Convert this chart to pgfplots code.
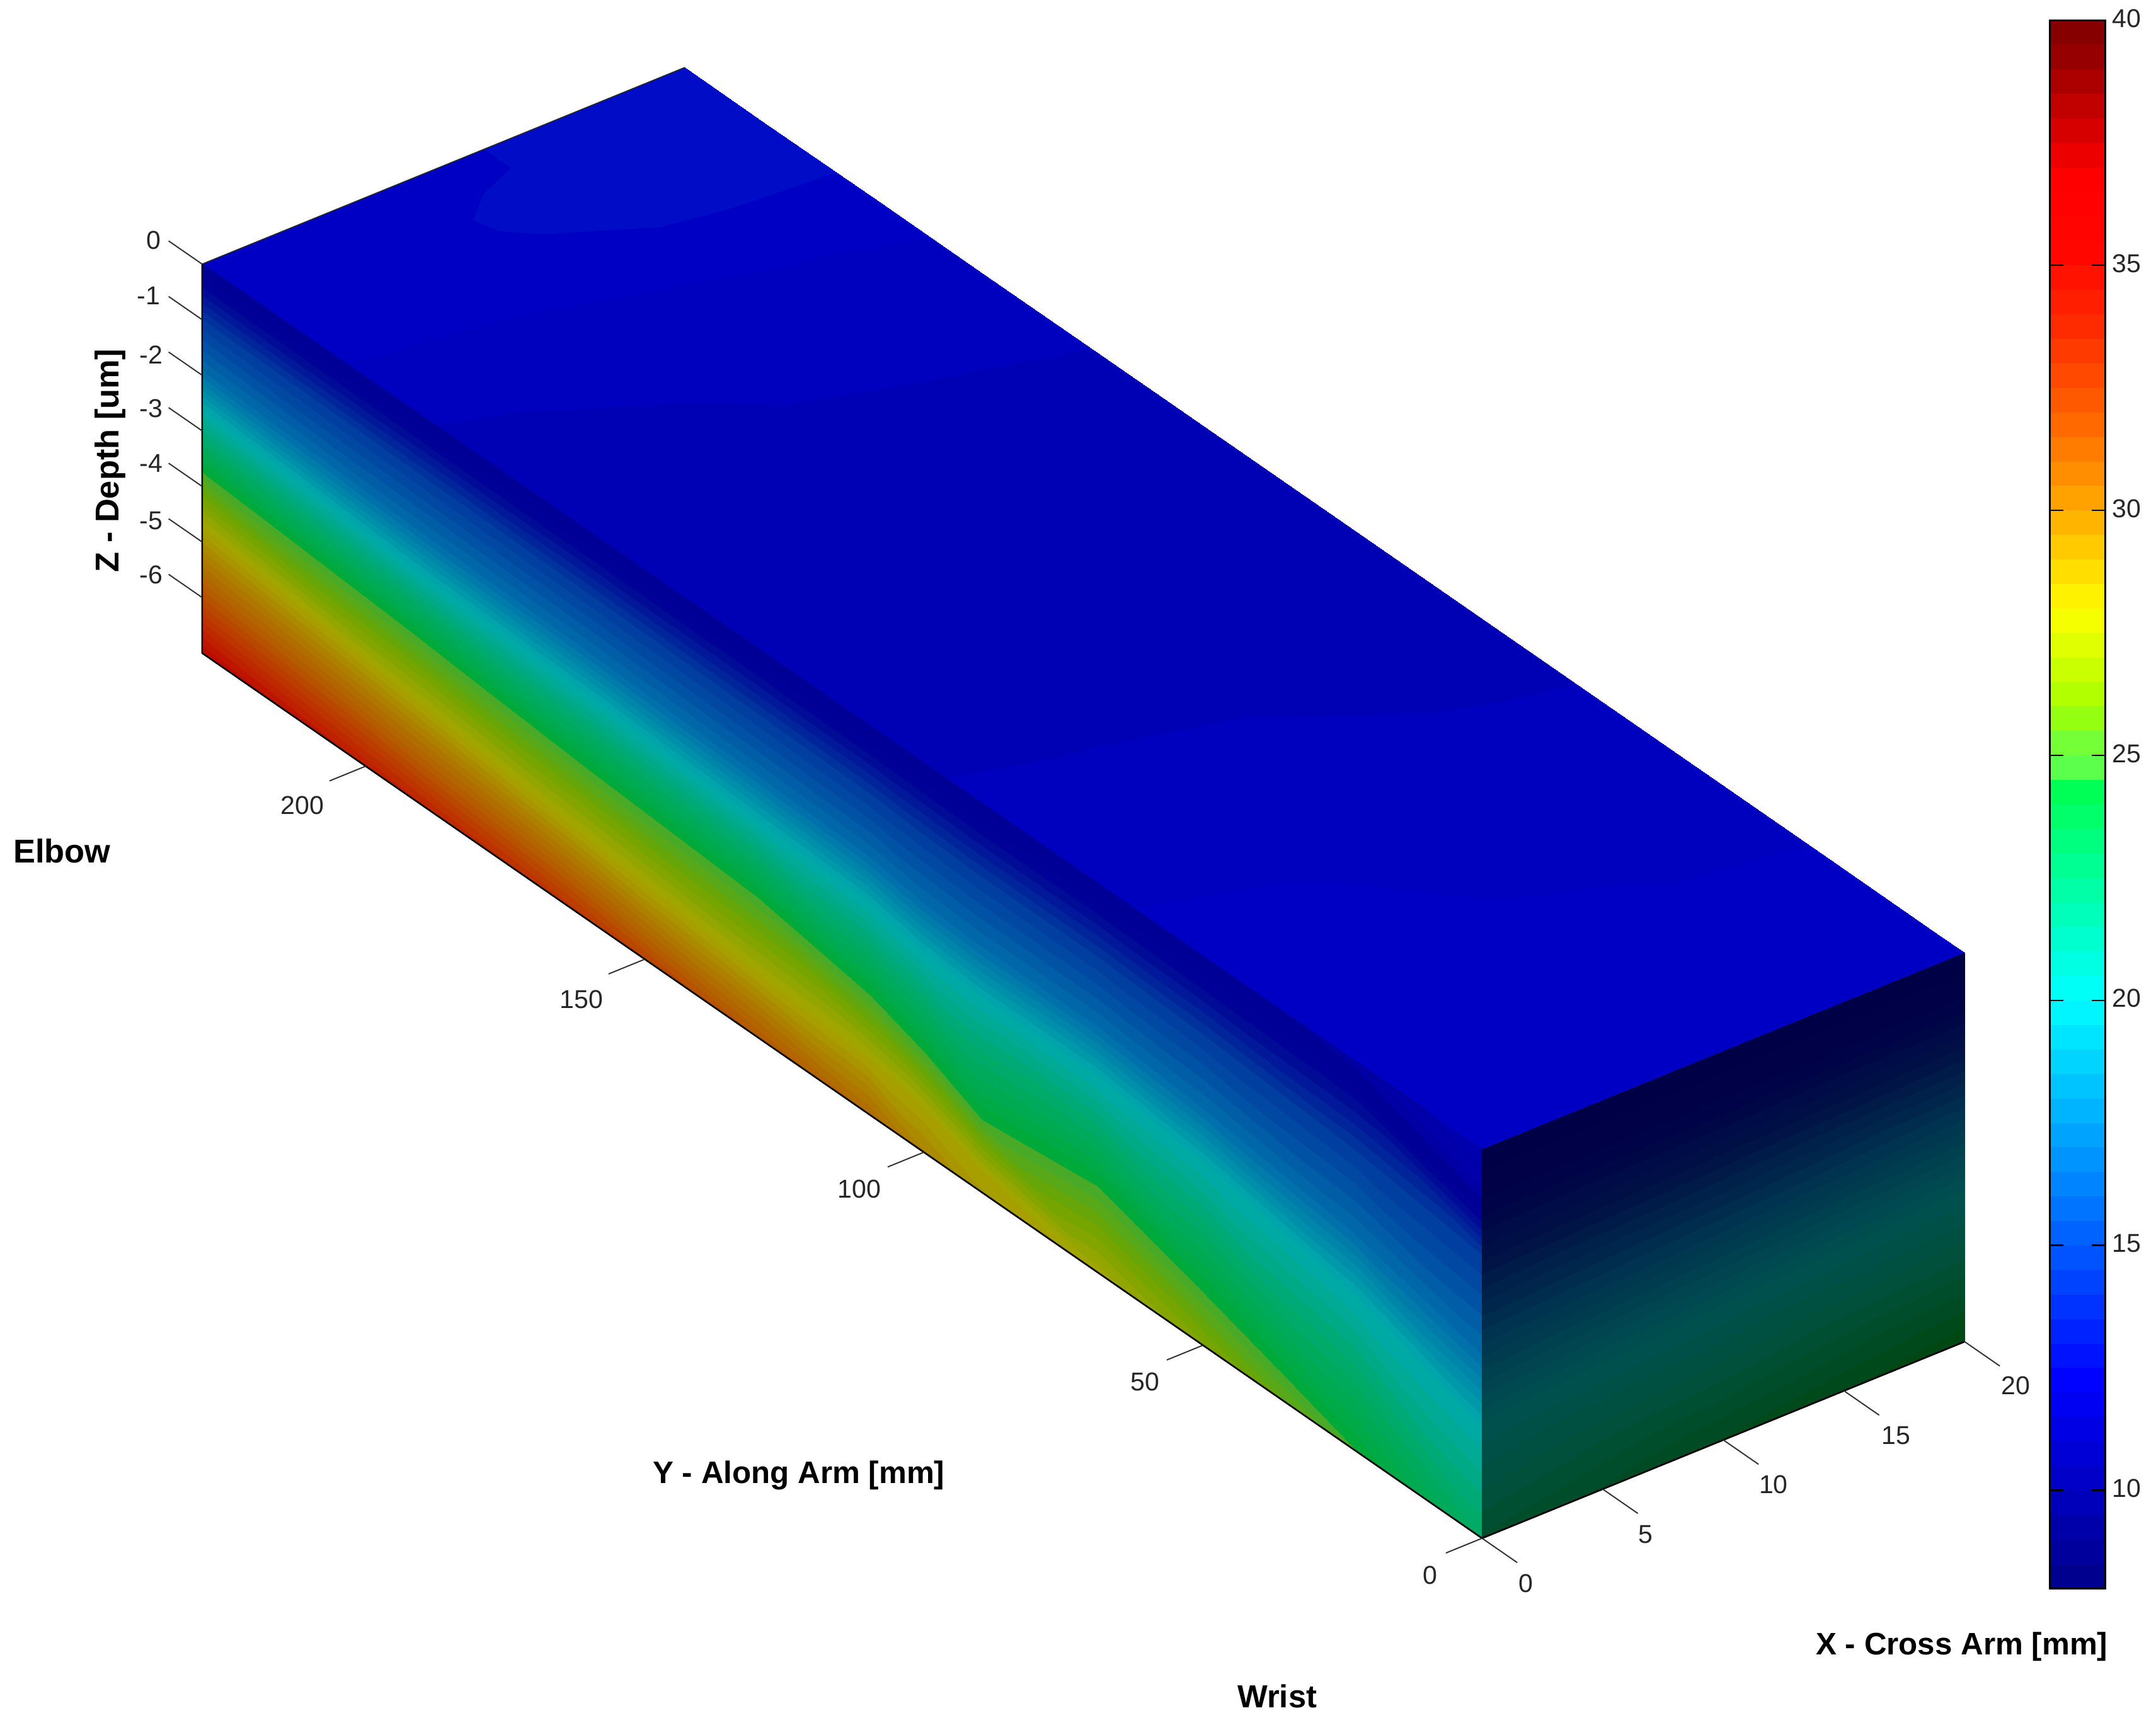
\documentclass[border=0pt]{standalone}
\usepackage{pgfplots}
\usepackage{fontspec}
\setmainfont{Liberation Sans}
\pgfplotsset{compat=1.18}
\definecolor{edgeb}{RGB}{0,0,150}
\pgfplotsset{
 colormap={basejet}{rgb255(0cm)=(0,0,143) rgb255(4cm)=(0,0,255) rgb255(12cm)=(0,255,255) rgb255(16.4cm)=(0,255,80) rgb255(16.5cm)=(85,255,85) rgb255(17cm)=(100,255,70) rgb255(17.5cm)=(130,255,40) rgb255(18cm)=(165,255,0) rgb255(20cm)=(255,255,0) rgb255(22cm)=(255,175,0) rgb255(24cm)=(255,100,0) rgb255(26cm)=(255,40,0) rgb255(27.5cm)=(255,5,0) rgb255(29cm)=(255,0,0) rgb255(31.75cm)=(140,0,0) rgb255(32cm)=(135,0,0)},
 colormap={basetop}{rgb255(0cm)=(0,0,117) rgb255(2.5cm)=(0,0,180) rgb255(3cm)=(0,0,190) rgb255(3.6cm)=(0,0,198) rgb255(4.06cm)=(0,12,198) rgb255(12cm)=(0,209,209) rgb255(32cm)=(107,0,0)},
 colormap={baseleft}{rgb255(0cm)=(0,0,175) rgb255(1.5cm)=(0,0,175) rgb255(2.5cm)=(0,0,165) rgb255(3cm)=(0,0,150) rgb255(4cm)=(0,0,150) rgb255(4.5cm)=(0,10,150) rgb255(6.5cm)=(0,60,160) rgb255(9cm)=(0,110,170) rgb255(12cm)=(0,170,170) rgb255(14cm)=(0,170,110) rgb255(16.4cm)=(0,170,55) rgb255(16.5cm)=(65,170,45) rgb255(17cm)=(80,170,35) rgb255(18cm)=(110,165,0) rgb255(20cm)=(165,165,0) rgb255(22cm)=(175,125,0) rgb255(24cm)=(180,90,0) rgb255(26cm)=(190,50,0) rgb255(28cm)=(190,10,0) rgb255(32cm)=(100,0,0)},
 colormap={baseright}{rgb255(0cm)=(0,0,60) rgb255(3cm)=(0,0,70) rgb255(4cm)=(0,2,72) rgb255(6cm)=(0,20,70) rgb255(9cm)=(0,55,80) rgb255(12cm)=(0,80,80) rgb255(14cm)=(0,80,55) rgb255(16cm)=(0,72,22) rgb255(17cm)=(0,72,10) rgb255(32cm)=(0,72,10)},
 colormap={jetS}{samples of colormap=(64 of basejet)},
 colormap={topS}{samples of colormap=(64 of basetop)},
 colormap={leftS}{samples of colormap=(64 of baseleft)},
 colormap={rightS}{samples of colormap=(64 of baseright)},
}
\newcommand{\lab}[3]{\node[inner sep=0pt,font=\fontsize{9.4}{12}\selectfont,text=black!85] at ({0.5*#1*1pt},{0.5*(1258-#2)*1pt}) {#3};}
\newcommand{\blab}[4]{\node[inner sep=0pt,font=\fontsize{#4}{14}\selectfont\bfseries] at ({0.5*#1*1pt},{0.5*(1258-#2)*1pt}) {#3};}
\begin{document}
\begin{tikzpicture}
\useasboundingbox (0,0) rectangle (784.1pt,629pt);
\begin{axis}[
 anchor=origin, at={(539pt,211pt)}, disabledatascaling, hide axis, clip=false,
 x={(8.775pt,3.575pt)}, y={(-2.03pt,1.404pt)}, z={(0pt,20.21pt)},
 xmin=-2,xmax=21,ymin=-7,ymax=236,zmin=-7,zmax=0,
 point meta min=8, point meta max=40,
 colormap access=piecewise constant,
 colormap name=jetS,
 unbounded coords=jump,
]
% top face z=0
\addplot3[surf,shader=interp,colormap name=topS,mesh/cols=5,point meta=\thisrow{v}] table {
x y z v
0 0 0 11.95
5 0 0 11.95
10 0 0 11.95
15 0 0 11.95
20 0 0 11.95
0 5 0 11.9
5 5 0 11.9
10 5 0 11.9
15 5 0 11.9
20 5 0 11.9
0 25 0 11.7
5 25 0 11.65
10 25 0 11.6
15 25 0 11.55
20 25 0 11.53
0 55 0 11.6
5 55 0 11.52
10 55 0 11.39
15 55 0 11.28
20 55 0 11.19
0 85 0 11.2
5 85 0 11.1
10 85 0 11.02
15 85 0 10.85
20 85 0 10.8
0 110 0 10.75
5 110 0 10.7
10 110 0 10.7
15 110 0 10.7
20 110 0 10.7
0 155 0 10.7
5 155 0 10.75
10 155 0 10.8
15 155 0 10.9
20 155 0 10.98
0 175 0 10.8
5 175 0 10.9
10 175 0 11.12
15 175 0 11.2
20 175 0 11.25
0 195 0 11.12
5 195 0 11.36
10 195 0 11.48
15 195 0 11.6
20 195 0 11.75
0 205 0 11.55
5 205 0 11.6
10 205 0 11.9
15 205 0 12.05
20 205 0 12.1
0 215 0 11.7
5 215 0 11.8
10 215 0 12.05
15 215 0 12.1
20 215 0 12.2
0 229.3 0 11.8
5 229.3 0 11.85
10 229.3 0 11.95
15 229.3 0 12.1
20 229.3 0 12.25
};
% left face x=0
\addplot3[surf,shader=interp,colormap name=leftS,mesh/cols=8,point meta=\thisrow{v}] table {
x y z v
0 0 0 9.5
0 0 -0.75 10.6
0 0 -1.9 14.5
0 0 -3.7 17
0 0 -5.0 20
0 0 -7 22.5
0 0 -7 22.5
0 0 -7 22.5
0 23 0 10.7
0 23 -0.63 12.4
0 23 -1.6 14.5
0 23 -3.11 17
0 23 -4.2 20
0 23 -6.95 24.4
0 23 -7 24.6
0 23 -7 24.6
0 50 0 11.3
0 50 -0.56 12.4
0 50 -1.41 14.5
0 50 -2.74 17
0 50 -3.7 20
0 50 -6.0 24.4
0 50 -7 26.6
0 50 -7 26.6
0 69 0 11.3
0 69 -0.52 12.4
0 69 -1.32 14.5
0 69 -2.58 17
0 69 -3.48 20
0 69 -5.4 24.4
0 69 -7 27.8
0 69 -7 27.8
0 90 0 11.3
0 90 -0.53 12.4
0 90 -1.33 14.5
0 90 -2.59 17
0 90 -3.5 20
0 90 -5.65 24.4
0 90 -6.6 28
0 90 -7 28.6
0 100 0 11.3
0 100 -0.51 12.4
0 100 -1.29 14.5
0 100 -2.52 17
0 100 -3.4 20
0 100 -5.15 24.4
0 100 -6.2 28
0 100 -7 29.6
0 110 0 11.3
0 110 -0.48 12.4
0 110 -1.22 14.5
0 110 -2.37 17
0 110 -3.2 20
0 110 -4.8 24.4
0 110 -6.0 28
0 110 -7 31
0 130 0 11.3
0 130 -0.47 12.4
0 130 -1.18 14.5
0 130 -2.29 17
0 130 -3.1 20
0 130 -4.45 24.4
0 130 -5.85 28
0 130 -7 32
0 160 0 11.3
0 160 -0.44 12.4
0 160 -1.12 14.5
0 160 -2.18 17
0 160 -2.95 20
0 160 -4.25 24.4
0 160 -5.55 28
0 160 -7 33.6
0 190 0 11.3
0 190 -0.43 12.4
0 190 -1.08 14.5
0 190 -2.11 17
0 190 -2.85 20
0 190 -4.0 24.4
0 190 -5.2 28
0 190 -7 34.6
0 229.3 0 11.3
0 229.3 -0.39 12.4
0 229.3 -0.99 14.5
0 229.3 -1.92 17
0 229.3 -2.6 20
0 229.3 -3.72 24.4
0 229.3 -4.74 28
0 229.3 -7 36
};
% right face y=0
\addplot3[surf,shader=interp,colormap name=rightS,mesh/cols=6,point meta=\thisrow{v}] table {
x y z v
0 0 0 11.1
0 0 -1 12.1
0 0 -2 14
0 0 -3.5 17
0 0 -4.9 20
0 0 -7 22.6
10 0 0 11.1
10 0 -0.95 12.1
10 0 -1.85 14
10 0 -3.25 17
10 0 -4.55 20
10 0 -7 23.6
20 0 0 11.1
20 0 -0.9 12.1
20 0 -1.7 14
20 0 -3 17
20 0 -4.25 20
20 0 -7 24.4
};
% edges and ticks
\addplot3[edgeb,line width=0.5pt] coordinates {(0,229.3,0) (0,10,0)};
\addplot3[black!85,line width=0.4pt] coordinates {(20,229.3,0) (0,229.3,0)};
\addplot3[black,line width=0.6pt] coordinates {(0,229.3,0) (0,229.3,-7) (0,0,-7) (20,0,-7)};
\addplot3[black!80,line width=0.45pt] coordinates {
(0,229.3,0) (0,235.3,0) (nan,nan,nan)
(0,229.3,-1) (0,235.3,-1) (nan,nan,nan)
(0,229.3,-2) (0,235.3,-2) (nan,nan,nan)
(0,229.3,-3) (0,235.3,-3) (nan,nan,nan)
(0,229.3,-4) (0,235.3,-4) (nan,nan,nan)
(0,229.3,-5) (0,235.3,-5) (nan,nan,nan)
(0,229.3,-6) (0,235.3,-6) (nan,nan,nan)
(0,0,-7) (-1.5,0,-7) (nan,nan,nan)
(0,50,-7) (-1.5,50,-7) (nan,nan,nan)
(0,100,-7) (-1.5,100,-7) (nan,nan,nan)
(0,150,-7) (-1.5,150,-7) (nan,nan,nan)
(0,200,-7) (-1.5,200,-7) (nan,nan,nan)
(0,0,-7) (0,-6.3,-7) (nan,nan,nan)
(5,0,-7) (5,-6.3,-7) (nan,nan,nan)
(10,0,-7) (10,-6.3,-7) (nan,nan,nan)
(15,0,-7) (15,-6.3,-7) (nan,nan,nan)
(20,0,-7) (20,-6.3,-7)
};
\end{axis}
\begin{axis}[
 at={(745.5pt,51.3pt)}, anchor=south west, scale only axis, width=20.2pt, height=570.3pt,
 xmin=0,xmax=1,ymin=8,ymax=40, ytick={10,15,...,40}, xtick=\empty,
 yticklabel pos=right, tick align=inside, major tick length=5pt,
 tick style={black,line width=0.6pt}, axis line style={black,line width=0.8pt},
 axis on top,
 point meta min=8, point meta max=40,
 colormap access=piecewise constant, colormap name=jetS,
 /pgf/number format/assume math mode=true,
 yticklabel style={font=\fontsize{9.4}{12}\selectfont,text=black!85,xshift=-1pt,yshift=0.7pt},
]
\addplot[surf,shader=interp,mesh/cols=2,point meta=y] table {
x y
0 8
1 8
0 40
1 40
};
\end{axis}
\lab{112}{175}{0}
\lab{108}{215}{-1}
\lab{110}{258}{-2}
\lab{110}{297}{-3}
\lab{110}{337}{-4}
\lab{110}{379}{-5}
\lab{110}{418}{-6}
\lab{220}{586}{200}
\lab{423}{727}{150}
\lab{625}{865}{100}
\lab{833}{1005}{50}
\lab{1040}{1146}{0}
\lab{1110}{1152}{0}
\lab{1197}{1116}{5}
\lab{1290}{1080}{10}
\lab{1379}{1044}{15}
\lab{1466}{1008}{20}
\node[inner sep=0pt,rotate=90,font=\fontsize{12}{14}\selectfont\bfseries] at (40pt,461.5pt) {Z - Depth [um]};
\blab{45}{619}{Elbow}{12}
\blab{581}{1073}{Y - Along Arm [mm]}{11.3}
\blab{1427}{1198}{X - Cross Arm [mm]}{11.3}
\blab{929}{1234}{Wrist}{11.6}
\end{tikzpicture}
\end{document}
